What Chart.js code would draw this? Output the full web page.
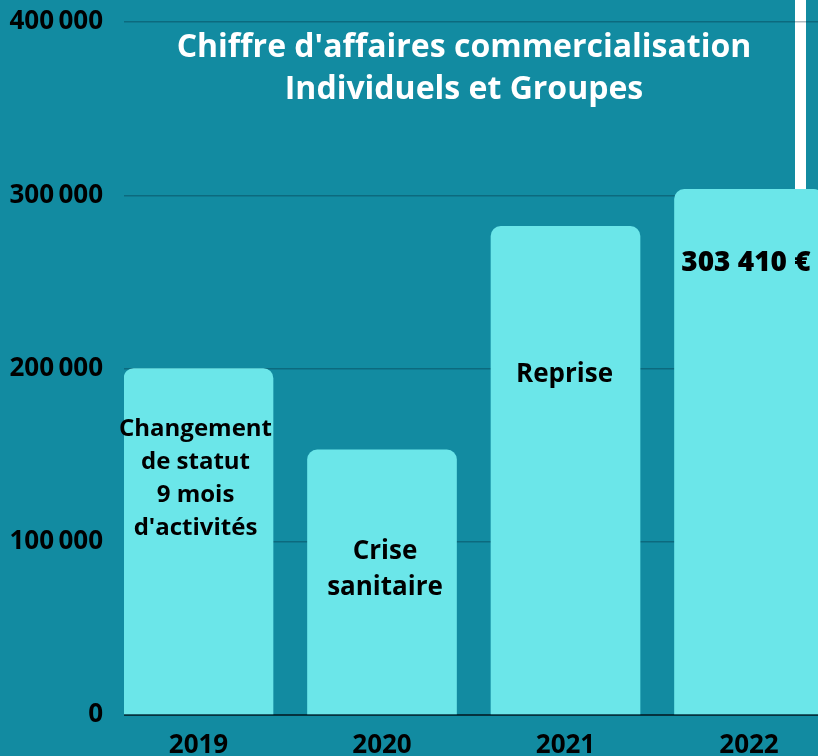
<!DOCTYPE html>
<html>
<head>
<meta charset="utf-8">
<script src="https://cdn.jsdelivr.net/npm/chart.js@4/dist/chart.umd.min.js"></script>
<style>
  html, body { margin: 0; padding: 0; background: #128BA1; overflow: hidden; }
  #wrap { position: relative; width: 818px; height: 756px; }
  #stripe { position: absolute; left: 795px; top: 0; width: 11px; height: 200px; background: #ffffff; z-index: 0; }
  #c { position: absolute; left: 0; top: 0; z-index: 1; }
  #title { position: absolute; left: 64px; width: 800px; top: 24px; z-index: 2; text-align: center;
           font-family: 'Open Sans', sans-serif; font-weight: 700; font-size: 32px; line-height: 42px; color: #ffffff; white-space: nowrap; }
</style>
</head>
<body>
<div id="wrap">
  <div id="stripe"></div>
  <canvas id="c" width="818" height="756"></canvas>
  <div id="title">Chiffre d'affaires commercialisation<br>Individuels et Groupes</div>
</div>
<script>
const categories = ['2019', '2020', '2021', '2022'];
const revenue = [200000, 153000, 282000, 303410];
const yTicks = [0, 100000, 200000, 300000, 400000];
const barNotes = [
  ['Changement', 'de statut', '9 mois', "d'activités"],
  ['Crise', 'sanitaire'],
  ['Reprise'],
  ['303 410 €']
];
const noteAnchors = [136700, 83700, 196500, 261000];

function fmt(v) {
  return String(v).replace(/\B(?=(\d{3})+(?!\d))/g, '\u2009');
}

const noteStyle = [
  { size: 24, lh: 33, weight: '700', dx: -3 },
  { size: 26, lh: 36, weight: '700', dx: 3 },
  { size: 26, lh: 36, weight: '700', dx: -1 },
  { size: 28, lh: 36, weight: '800', dx: -3 }
];

const notesPlugin = {
  id: 'barNotes',
  afterDatasetsDraw(chart) {
    const ctx = chart.ctx;
    const meta = chart.getDatasetMeta(0);
    const ys = chart.scales.y;
    ctx.save();
    ctx.fillStyle = '#000000';
    ctx.textAlign = 'center';
    ctx.textBaseline = 'middle';
    meta.data.forEach((bar, i) => {
      const lines = barNotes[i];
      const st = noteStyle[i];
      ctx.font = st.weight + ' ' + st.size + "px 'Open Sans'";
      const cy = ys.getPixelForValue(noteAnchors[i]);
      const start = cy - (lines.length - 1) * st.lh / 2;
      lines.forEach((t, k) => ctx.fillText(t, bar.x + st.dx, start + k * st.lh));
    });
    ctx.restore();
  }
};

new Chart(document.getElementById('c'), {
  type: 'bar',
  data: {
    datasets: [{
      data: categories.map((c, i) => ({ x: i, y: revenue[i] })),
      backgroundColor: '#6BE6E9',
      borderRadius: { topLeft: 10, topRight: 10, bottomLeft: 0, bottomRight: 0 },
      borderSkipped: 'bottom',
      barThickness: 149
    }]
  },
  options: {
    responsive: false,
    devicePixelRatio: 1,
    animation: false,
    layout: { padding: { top: 22, right: 0, left: 0, bottom: 0 } },
    plugins: { legend: { display: false }, tooltip: { enabled: false } },
    scales: {
      x: {
        type: 'linear',
        offset: false,
        min: -0.406,
        max: 3.376,
        grid: { display: false },
        border: { display: false },
        afterFit(s) { s.height = 41; s.paddingLeft = 0; s.paddingRight = 0; },
        afterBuildTicks(s) { s.ticks = categories.map((c, i) => ({ value: i })); },
        ticks: {
          stepSize: 1,
          includeBounds: false,
          padding: 7,
          color: '#000000',
          font: { family: "'Open Sans'", weight: '700', size: 26 },
          callback: v => categories[v]
        }
      },
      y: {
        min: 0,
        max: 400000,
        afterFit(s) { s.width = 124; s.paddingTop = 0; s.paddingBottom = 0; },
        afterBuildTicks(s) { s.ticks = yTicks.map(v => ({ value: v })); },
        border: { display: false },
        grid: {
          drawTicks: false,
          lineWidth: ctx => ctx.tick && ctx.tick.value === 0 ? 2 : 1.5,
          color: ctx => ctx.tick && ctx.tick.value === 0 ? 'rgba(0,20,30,0.75)' : 'rgba(0,30,45,0.3)'
        },
        ticks: {
          padding: 21,
          color: '#000000',
          font: { family: "'Open Sans'", weight: '700', size: 26 },
          callback: v => fmt(v)
        }
      }
    }
  },
  plugins: [notesPlugin]
});
</script>
</body>
</html>
